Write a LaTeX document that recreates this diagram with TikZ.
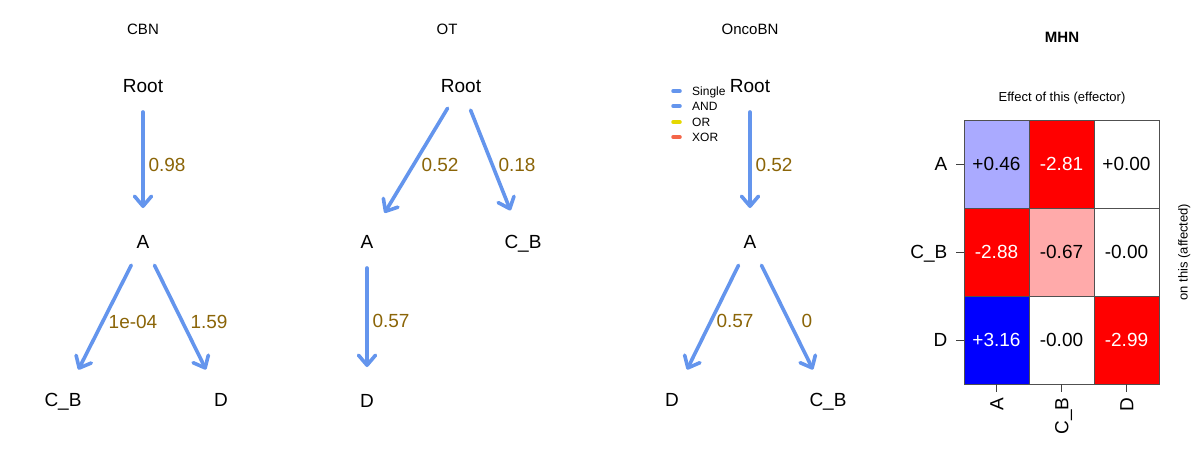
\documentclass[tikz,border=0pt]{standalone}
\usepackage{fontspec}
\setmainfont{Liberation Sans}
\usetikzlibrary{arrows.meta}
\definecolor{edgeblue}{HTML}{6495ED}
\definecolor{lblgold}{HTML}{8B6508}
\definecolor{orcol}{HTML}{E5D800}
\definecolor{xorcol}{HTML}{F46548}
\definecolor{hmlblue}{HTML}{AAAAFF}
\definecolor{hmpink}{HTML}{FFAAAA}
\definecolor{hmblue}{HTML}{0000FF}
\definecolor{hmred}{HTML}{FF0000}
\definecolor{hmborder}{HTML}{505050}
\begin{document}
\begin{tikzpicture}[x=1pt,y=-1pt,
  gnode/.style={font=\fontsize{19}{22}\selectfont, text height=13.6pt, text depth=0pt, inner sep=0pt},
  elabel/.style={gnode, text=lblgold},
  ptitle/.style={font=\fontsize{15}{18}\selectfont, text height=10.7pt, text depth=0pt, inner sep=0pt},
  small/.style={font=\fontsize{13}{16}\selectfont, text height=9.3pt, text depth=0pt, inner sep=0pt},
  legtext/.style={font=\fontsize{12}{14}\selectfont, text height=8.6pt, text depth=0pt, inner sep=0pt, anchor=west},
  legline/.style={line width=3.5pt, line cap=round},
  edge/.style={draw=edgeblue, line width=3.6pt, line cap=round,
    -{Straight Barb[length=10pt,width=17pt,round]}, shorten <=26pt, shorten >=34pt},
  cell/.style={gnode, draw=hmborder, line width=0.8pt, minimum width=65pt, minimum height=88pt},
  tick/.style={draw=black!75, line width=0.8pt},
]
\useasboundingbox[fill=white] (0,0) rectangle (1200,459);

% ---------- CBN ----------
\node[ptitle] (t1) at (143,29) {CBN};
\node[gnode] (cRoot) at (143,86) {Root};
\node[gnode] (cA) at (143,242) {A};
\node[gnode] (cCB) at (63,400) {C\_B};
\node[gnode] (cD) at (221,400) {D};
\draw[edge] (cRoot.center) -- (cA.center);
\draw[edge] (cA.center) -- (cCB.center);
\draw[edge] (cA.center) -- (cD.center);
\node[elabel] (cl1) at (167,165) {0.98};
\node[elabel] (cl2) at (133,322) {1e-04};
\node[elabel] (cl3) at (209,322) {1.59};

% ---------- OT ----------
\node[ptitle] (t2) at (447,29) {OT};
\node[gnode] (oRoot) at (461,86) {Root};
\node[gnode] (oA) at (367,242) {A};
\node[gnode] (oCB) at (523,242) {C\_B};
\node[gnode] (oD) at (367,401) {D};
\draw[edge] (oRoot.center) -- (oA.center);
\draw[edge] (oRoot.center) -- (oCB.center);
\draw[edge] (oA.center) -- (oD.center);
\node[elabel] (ol1) at (440,165) {0.52};
\node[elabel] (ol2) at (517,165) {0.18};
\node[elabel] (ol3) at (391,321) {0.57};

% ---------- OncoBN ----------
\node[ptitle] (t3) at (750,29) {OncoBN};
\node[gnode] (bRoot) at (750,86) {Root};
\node[gnode] (bA) at (750,242) {A};
\node[gnode] (bD) at (672,400) {D};
\node[gnode] (bCB) at (828,400) {C\_B};
\draw[edge] (bRoot.center) -- (bA.center);
\draw[edge] (bA.center) -- (bD.center);
\draw[edge] (bA.center) -- (bCB.center);
\node[elabel] (bl1) at (774,165) {0.52};
\node[elabel] (bl2) at (735,321) {0.57};
\node[elabel] (bl3) at (807,321) {0};
% legend
\draw[legline, edgeblue] (673,91) -- (680,91);
\draw[legline, edgeblue] (673,106) -- (680,106);
\draw[legline, orcol] (673,122) -- (680,122);
\draw[legline, xorcol] (673,137) -- (680,137);
\node[legtext] (lg1) at (692,91) {Single};
\node[legtext] (lg2) at (692,106) {AND};
\node[legtext] (lg3) at (692,122) {OR};
\node[legtext] (lg4) at (692,137) {XOR};

% ---------- MHN ----------
\node[ptitle, font=\bfseries\fontsize{15}{18}\selectfont] (t4) at (1062,37) {MHN};
\node[small] (eff) at (1062,97) {Effect of this (effector)};
\node[small, rotate=90] (aff) at (1183,252) {on this (affected)};

\node[cell, fill=hmlblue] (m11) at (996.5,164) {+0.46};
\node[cell, fill=hmred, text=white] (m12) at (1061.5,164) {-2.81};
\node[cell, fill=white] (m13) at (1126.5,164) {+0.00};
\node[cell, fill=hmred, text=white] (m21) at (996.5,252) {-2.88};
\node[cell, fill=hmpink] (m22) at (1061.5,252) {-0.67};
\node[cell, fill=white] (m23) at (1126.5,252) {-0.00};
\node[cell, fill=hmblue, text=white] (m31) at (996.5,340) {+3.16};
\node[cell, fill=white] (m32) at (1061.5,340) {-0.00};
\node[cell, fill=hmred, text=white] (m33) at (1126.5,340) {-2.99};

\draw[tick] (m11.west) -- ++(-8,0) coordinate (rt1);
\draw[tick] (m21.west) -- ++(-8,0) coordinate (rt2);
\draw[tick] (m31.west) -- ++(-8,0) coordinate (rt3);
\node[gnode, anchor=east] (rl1) at ([xshift=-8pt]rt1) {A};
\node[gnode, anchor=east] (rl2) at ([xshift=-8pt]rt2) {C\_B};
\node[gnode, anchor=east] (rl3) at ([xshift=-8pt]rt3) {D};

\draw[tick] (m31.south) -- ++(0,8) coordinate (ct1);
\draw[tick] (m32.south) -- ++(0,8) coordinate (ct2);
\draw[tick] (m33.south) -- ++(0,8) coordinate (ct3);
\node[gnode, rotate=90, anchor=east] (cl1x) at ([yshift=-5pt]ct1) {A};
\node[gnode, rotate=90, anchor=east] (cl2x) at ([yshift=-5pt]ct2) {C\_B};
\node[gnode, rotate=90, anchor=east] (cl3x) at ([yshift=-5pt]ct3) {D};
\end{tikzpicture}
\end{document}
